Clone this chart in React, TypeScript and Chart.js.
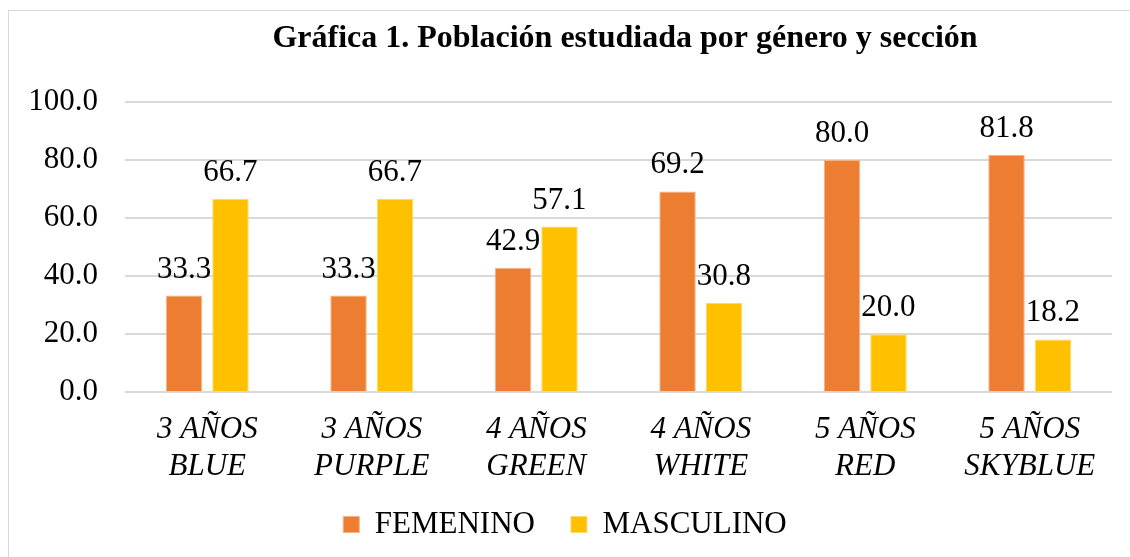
import React, { useEffect, useRef } from "react";
import { Chart, registerables } from "chart.js";

Chart.register(...registerables);

const categories: string[][] = [
  ["3 AÑOS", "BLUE"],
  ["3 AÑOS", "PURPLE"],
  ["4 AÑOS", "GREEN"],
  ["4 AÑOS", "WHITE"],
  ["5 AÑOS", "RED"],
  ["5 AÑOS", "SKYBLUE"],
];
const femenino: number[] = [33.3, 33.3, 42.9, 69.2, 80.0, 81.8];
const masculino: number[] = [66.7, 66.7, 57.1, 30.8, 20.0, 18.2];
const titleText = "Gráfica 1. Población estudiada por género y sección";

const FONT = "'Liberation Serif', 'Times New Roman', serif";

const titlePlugin = {
  id: "customTitle",
  afterDraw(chart: any) {
    const ctx = chart.ctx;
    ctx.save();
    ctx.font = `bold 32px ${FONT}`;
    ctx.fillStyle = "#000";
    ctx.textAlign = "center";
    ctx.textBaseline = "alphabetic";
    ctx.fillText(titleText, 625, 47);
    ctx.restore();
  },
};

const labelPlugin = {
  id: "valueLabels",
  afterDatasetsDraw(chart: any) {
    const ctx = chart.ctx;
    ctx.save();
    ctx.font = `31px ${FONT}`;
    ctx.fillStyle = "#000";
    ctx.textAlign = "center";
    ctx.textBaseline = "alphabetic";
    chart.data.datasets.forEach((ds: any, i: number) => {
      const meta = chart.getDatasetMeta(i);
      meta.data.forEach((el: any, j: number) => {
        ctx.fillText(Number(ds.data[j]).toFixed(1), el.x, el.y - 18);
      });
    });
    ctx.restore();
  },
};

export default function App() {
  const ref = useRef<HTMLCanvasElement | null>(null);
  useEffect(() => {
    if (!ref.current) return;
    const chart = new Chart(ref.current, {
      type: "bar",
      data: {
        labels: categories,
        datasets: [
          {
            label: "FEMENINO",
            data: femenino,
            backgroundColor: "#ED7D31",
            borderColor: "#F4B183",
            borderWidth: 1,
            categoryPercentage: 0.565,
            barPercentage: 0.785,
          },
          {
            label: "MASCULINO",
            data: masculino,
            backgroundColor: "#FFC000",
            borderColor: "#FFD966",
            borderWidth: 1,
            categoryPercentage: 0.565,
            barPercentage: 0.785,
          },
        ],
      },
      options: {
        responsive: false,
        animation: false,
        layout: { padding: { left: 18, right: 18, top: 102, bottom: 7 } },
        plugins: {
          title: { display: false },
          tooltip: { enabled: false },
          legend: {
            position: "bottom",
            labels: {
              boxWidth: 16,
              boxHeight: 16,
              padding: 5,
              color: "#000",
              font: { family: FONT, size: 31 },
              generateLabels: (chart: any) => {
                const items = Chart.defaults.plugins.legend.labels.generateLabels(chart);
                return items.map((it: any, i: number) => ({
                  ...it,
                  text: i < items.length - 1 ? it.text + "    " : it.text,
                }));
              },
            },
          },
        },
        scales: {
          x: {
            grid: { display: false, drawTicks: false },
            border: { display: false },
            ticks: {
              color: "#000",
              padding: 19,
              maxRotation: 0,
              autoSkip: false,
              font: { family: FONT, size: 31, style: "italic", lineHeight: 1.19 },
            },
          },
          y: {
            min: 0,
            max: 100,
            grid: { color: "#d9d9d9", lineWidth: 2, drawTicks: false },
            border: { display: false },
            afterFit: (scale: any) => {
              scale.width = 107;
            },
            ticks: {
              stepSize: 20,
              color: "#000",
              padding: 27,
              font: { family: FONT, size: 31 },
              callback: (v: any) => Number(v).toFixed(1),
            },
          },
        },
      },
      plugins: [labelPlugin, titlePlugin],
    });
    return () => chart.destroy();
  }, []);

  return (
    <div style={{ position: "absolute", left: 0, top: 0, width: 1130, height: 557, background: "#fff" }}>
      <div
        style={{
          position: "absolute",
          left: 8,
          top: 10,
          width: 1130,
          height: 560,
          border: "1px solid #d9d9d9",
          boxSizing: "border-box",
        }}
      />
      <canvas ref={ref} width={1130} height={557} style={{ position: "absolute", left: 0, top: 0 }} />
    </div>
  );
}
